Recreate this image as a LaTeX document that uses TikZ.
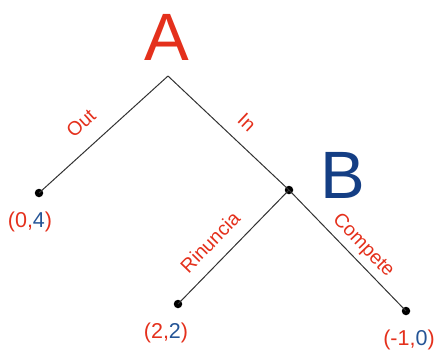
\documentclass[tikz,border=0pt]{standalone}
\usepackage{fontspec}
\setmainfont{Liberation Sans}
\definecolor{tred}{RGB}{228,48,28}
\definecolor{tblue}{RGB}{20,62,132}
\definecolor{pblue}{RGB}{36,84,150}
\definecolor{edge}{RGB}{50,50,50}
\tikzset{
  dot/.style={circle,fill=black,inner sep=0pt,minimum size=8.5pt},
  edgeline/.style={draw=edge,line width=1pt},
  lbl/.style={text=tred,font=\fontsize{19.5}{22}\selectfont,inner sep=0pt},
  pay/.style={font=\fontsize{21.5}{24}\selectfont,inner sep=0pt},
  player/.style={font=\fontsize{67}{70}\selectfont,inner sep=0pt}
}
\begin{document}
\begin{tikzpicture}[x=1pt,y=-1pt]
\useasboundingbox (0,0) rectangle (434,354);
\coordinate (a) at (168,76);
\node[dot] (l1) at (39,193) {};
\node[dot] (b) at (289,190) {};
\node[dot] (l2) at (178,304) {};
\node[dot] (l3) at (406,311) {};
\draw[edgeline] (a) -- (l1.center);
\draw[edgeline] (a) -- (b.center);
\draw[edgeline] (b.center) -- (l2.center);
\draw[edgeline] (b.center) -- (l3.center);
\node[player,text=tred] (pA) at (167,37) {A};
\node[player,text=tblue] (pB) at (343,175) {B};
\node[lbl,rotate=42.4] (out) at (81,123) {Out};
\node[lbl,rotate=-43.3] (in) at (247,122) {In};
\node[lbl,rotate=45.8] (rin) at (210,242) {Rinuncia};
\node[lbl,rotate=-46] (comp) at (363,246) {Compete};
\node[pay] (p1) at (30,222) {\textcolor{tred}{(0,}\textcolor{pblue}{4}\textcolor{tred}{)}};
\node[pay] (p2) at (166,333) {\textcolor{tred}{(2,}\textcolor{pblue}{2}\textcolor{tred}{)}};
\node[pay] (p3) at (409,340) {\textcolor{tred}{(-1,}\textcolor{pblue}{0}\textcolor{tred}{)}};
\end{tikzpicture}
\end{document}
